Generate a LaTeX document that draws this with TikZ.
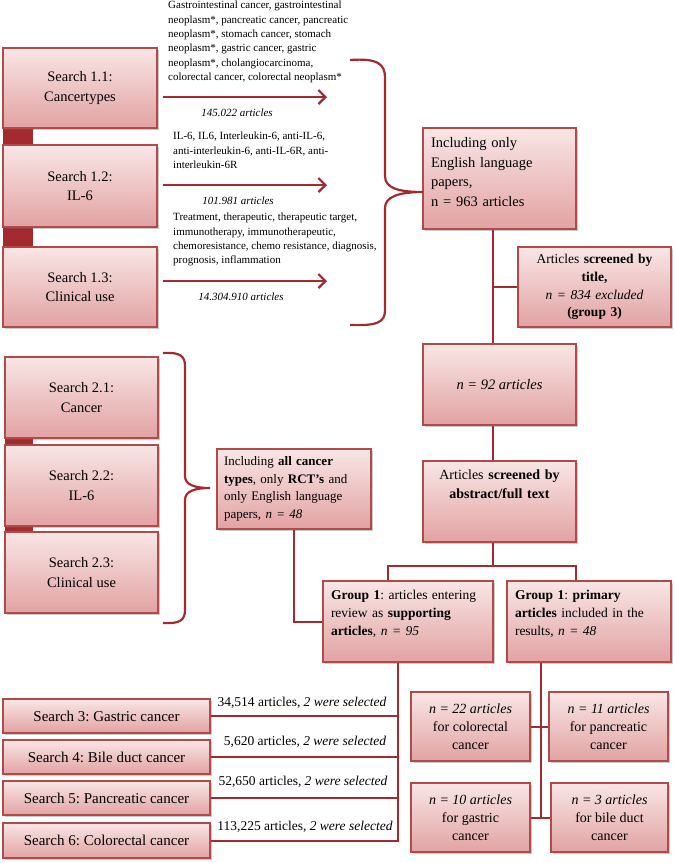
\documentclass[tikz,border=0pt]{standalone}
\usepackage{fontspec}
\setmainfont{Liberation Serif}
\usetikzlibrary{shadows,arrows.meta}
\definecolor{bord}{HTML}{B24A4A}
\definecolor{conn}{HTML}{A32A2E}
\definecolor{ftop}{HTML}{F9E6E6}
\definecolor{fbot}{HTML}{E2A2A2}
\tikzset{
 box/.style={draw=bord, line width=1.2pt, top color=ftop, bottom color=fbot,
   drop shadow={shadow xshift=1.5pt, shadow yshift=-1.5pt, opacity=0.35, fill=black!60},
   inner sep=3pt, align=center, font=\fontsize{14.5}{19.5}\selectfont},
 ln/.style={draw=conn, line width=2pt},
 arr/.style={draw=conn, line width=2.2pt, -{Straight Barb[length=7pt,width=14pt]}},
 kw/.style={font=\fontsize{11}{14.3}\selectfont, align=left, anchor=north west, inner sep=0pt},
 cnt/.style={font=\fontsize{11}{13}\selectfont\itshape, inner sep=0pt},
 lbl/.style={font=\fontsize{13.5}{16}\selectfont, inner sep=0pt},
}
\frenchspacing
\begin{document}
\begin{tikzpicture}[x=1pt,y=-1pt]
\useasboundingbox (0,0) rectangle (675,863);
% connector strips
\fill[conn] (3,128) rectangle (33,145);
\fill[conn] (3,227) rectangle (33,247);
\fill[conn] (5,438) rectangle (33,445);
\fill[conn] (5,526) rectangle (33,532);
% search 1 boxes
\node[box, minimum width=154pt, minimum height=80pt] (s11) at (80,88) {Search 1.1:\\Cancertypes};
\node[box, minimum width=154pt, minimum height=82pt] (s12) at (80,186) {Search 1.2:\\IL-6};
\node[box, minimum width=154pt, minimum height=80pt] (s13) at (80,287) {Search 1.3:\\Clinical use};
% keywords
\node[kw] (kw1) at (168,1) {Gastrointestinal cancer, gastrointestinal\\neoplasm*, pancreatic cancer, pancreatic\\neoplasm*, stomach cancer, stomach\\neoplasm*, gastric cancer, gastric\\neoplasm*, cholangiocarcinoma,\\colorectal cancer, colorectal neoplasm*};
\node[kw] (kw2) at (173,132) {IL-6, IL6, Interleukin-6, anti-IL-6,\\anti-interleukin-6, anti-IL-6R, anti-\\interleukin-6R};
\node[kw] (kw3) at (173,213) {Treatment, therapeutic, therapeutic target,\\immunotherapy, immunotherapeutic,\\chemoresistance, chemo resistance, diagnosis,\\prognosis, inflammation};
\node[cnt] (cnt1) at (237,113) {145.022 articles};
\node[cnt] (cnt2) at (238,201) {101.981 articles};
\node[cnt] (cnt3) at (241,297) {14.304.910 articles};
% arrows
\coordinate (a1s) at (163,97); \coordinate (a1e) at (327,97);
\coordinate (a2s) at (163,185); \coordinate (a2e) at (327,185);
\coordinate (a3s) at (163,281); \coordinate (a3e) at (327,281);
\draw[arr] (a1s) -- (a1e);
\draw[arr] (a2s) -- (a2e);
\draw[arr] (a3s) -- (a3e);
% right column
\node[box, minimum width=153pt, minimum height=101pt, text width=137pt, align=left] (eng) at (499.5,178.5) {Including only\\English language\\papers,\\n = 963 articles\\[-6.5pt]\mbox{}};
\node[box, minimum width=153pt, minimum height=80pt, text width=145pt, font=\fontsize{13.5}{17.7}\selectfont] (title) at (594.5,287) {Articles \textbf{screened by}\\\textbf{title,}\\\textit{n = 834 excluded}\\\textbf{(group 3)}};
\node[box, minimum width=153pt, minimum height=81pt, font=\fontsize{14.5}{19.5}\selectfont\itshape] (n92) at (499.5,384.5) {n = 92 articles};
\node[box, minimum width=153pt, minimum height=81pt, text width=145pt, font=\fontsize{14}{19}\selectfont] (abs) at (499.5,501.5) {Articles \textbf{screened by}\\\textbf{abstract/full text}\\[15pt]\mbox{}};
% brace 1
\coordinate (b1t) at (350,60); \coordinate (b1tip) at (423,192); \coordinate (b1b) at (350,325);
\draw[ln, line width=2.2pt] (b1t) .. controls (378,58) and (385,64) .. (385,78) -- (385,176) .. controls (385,188) and (398,192) .. (b1tip) .. controls (398,192) and (385,197) .. (385,208) -- (385,310) .. controls (385,322) and (378,326) .. (b1b);
% search 2
\node[box, minimum width=153pt, minimum height=81pt] (s21) at (81.5,397.5) {Search 2.1:\\Cancer};
\node[box, minimum width=153pt, minimum height=81pt] (s22) at (81.5,485.5) {Search 2.2:\\IL-6};
\node[box, minimum width=153pt, minimum height=81pt] (s23) at (81.5,572.5) {Search 2.3:\\Clinical use};
\coordinate (b2t) at (163,353); \coordinate (b2tip) at (210,488); \coordinate (b2b) at (163,623);
\draw[ln, line width=2.2pt] (b2t) .. controls (180,352) and (185,356) .. (185,366) -- (185,476) .. controls (185,485) and (195,488) .. (b2tip) .. controls (195,488) and (185,491) .. (185,500) -- (185,610) .. controls (185,620) and (180,624) .. (b2b);
\node[box, minimum width=154pt, minimum height=80pt, text width=140pt, align=left, font=\fontsize{13}{17.7}\selectfont] (allc) at (294,489) {Including \textbf{all cancer}\\\textbf{types}, only \textbf{RCT’s} and\\only English language\\papers, \textit{n = 48}};
% group 1
\node[box, minimum width=170pt, minimum height=81pt, text width=154pt, align=left, font=\fontsize{13.5}{18}\selectfont] (g1l) at (408,621.5) {\textbf{Group 1}: articles entering\\review as \textbf{supporting}\\\textbf{articles}, \textit{n = 95}\\[-1pt]\mbox{}};
\node[box, minimum width=164pt, minimum height=81pt, text width=148pt, align=left, font=\fontsize{13.5}{18}\selectfont] (g1r) at (589,621.5) {\textbf{Group 1}: \textbf{primary}\\\textbf{articles} included in the\\results, \textit{n = 48}\\[-1pt]\mbox{}};
% bottom searches
\node[box, minimum width=207pt, minimum height=34pt, font=\fontsize{15}{18}\selectfont] (s3) at (106.5,716) {Search 3: Gastric cancer};
\node[box, minimum width=207pt, minimum height=34pt, font=\fontsize{15}{18}\selectfont] (s4) at (106.5,757) {Search 4: Bile duct cancer};
\node[box, minimum width=207pt, minimum height=34pt, font=\fontsize{15}{18}\selectfont] (s5) at (106.5,798) {Search 5: Pancreatic cancer};
\node[box, minimum width=207pt, minimum height=35pt, font=\fontsize{15}{18}\selectfont] (s6) at (106.5,840.5) {Search 6: Colorectal cancer};
\node[lbl] (l3) at (302,703) {34,514 articles, \textit{2 were selected}};
\node[lbl] (l4) at (305,742) {5,620 articles, \textit{2 were selected}};
\node[lbl] (l5) at (303,782) {52,650 articles, \textit{2 were selected}};
\node[lbl] (l6) at (305,827) {113,225 articles, \textit{2 were selected}};
% result boxes
\node[box, minimum width=119pt, minimum height=69pt, font=\fontsize{14}{18}\selectfont] (c22) at (470.5,726.5) {\textit{n = 22 articles}\\for colorectal\\cancer};
\node[box, minimum width=119pt, minimum height=69pt, font=\fontsize{14}{18}\selectfont] (c11) at (608.5,726.5) {\textit{n = 11 articles}\\for pancreatic\\cancer};
\node[box, minimum width=119pt, minimum height=69pt, font=\fontsize{14}{18}\selectfont] (c10) at (470.5,817.5) {\textit{n = 10 articles}\\for gastric\\cancer};
\node[box, minimum width=117pt, minimum height=69pt, font=\fontsize{14}{18}\selectfont] (c3) at (609.5,817.5) {\textit{n = 3 articles}\\for bile duct\\cancer};
% connectors right column
\coordinate (sp) at (493,0);
\coordinate (jn) at (493,566); \coordinate (jl) at (388,566); \coordinate (jr) at (576,566);
\draw[ln] (eng.south -| sp) -- (n92.north -| sp);
\draw[ln] (sp |- title.west) -- (title.west);
\draw[ln] (n92.south -| sp) -- (abs.north -| sp);
\draw[ln] (abs.south -| jn) -- (jn);
\draw[ln] (g1l.north -| jl) -- (jl) -- (jr) -- (g1r.north -| jr);
\draw[ln] (allc.south) |- (g1l.west);
\coordinate (vl) at (398,0);
\draw[ln] (g1l.south -| vl) -- (vl |- s6.east) -- (s6.east);
\draw[ln] (s3.east) -- (s3.east -| vl);
\draw[ln] (s4.east) -- (s4.east -| vl);
\draw[ln] (s5.east) -- (s5.east -| vl);
\coordinate (vr) at (541,0);
\draw[ln] (g1r.south -| vr) -- (vr |- c10.east);
\draw[ln] (c22.east) -- (c11.west);
\draw[ln] (c10.east) -- (c3.west);
\end{tikzpicture}
\end{document}
